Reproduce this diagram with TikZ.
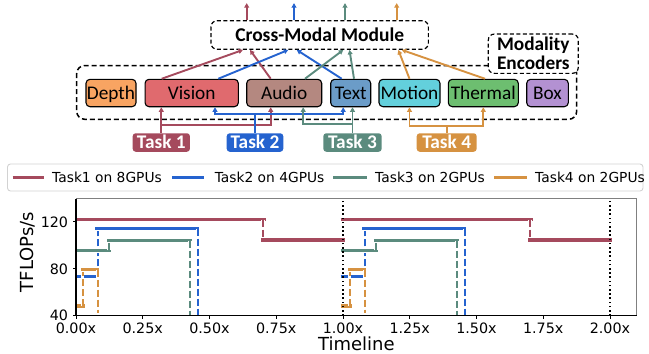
\documentclass[tikz,border=0pt]{standalone}
\usepackage{fontspec}
\setmainfont{Carlito}
\newfontfamily\dvs{DejaVu Sans}
\usetikzlibrary{arrows.meta,calc}
\definecolor{cRed}{HTML}{A54A5D}
\definecolor{cBlue}{HTML}{2563CF}
\definecolor{cGreen}{HTML}{5B8B7E}
\definecolor{cOrange}{HTML}{D69241}
\definecolor{cDepth}{HTML}{F8A462}
\definecolor{cVision}{HTML}{E06A6E}
\definecolor{cAudio}{HTML}{B48880}
\definecolor{cText}{HTML}{6B9CC8}
\definecolor{cMotion}{HTML}{63D0DC}
\definecolor{cThermal}{HTML}{6DBE70}
\definecolor{cBox}{HTML}{B391D2}
\begin{document}
\begin{tikzpicture}[x=1pt,y=-1pt,
  enc/.style={draw=black, line width=1.1pt, rounded corners=4pt, minimum height=27.4pt, inner sep=0pt, text height=12.4pt, text depth=0pt, font=\fontsize{19.3}{21}\selectfont},
  taskbox/.style={rounded corners=3pt, minimum height=18.5pt, inner sep=0pt, text=white, text height=12.4pt, text depth=0pt, font=\fontsize{19.3}{21}\selectfont\bfseries},
  dbox/.style={draw=black, dash pattern=on 4pt off 2.5pt, line width=1.2pt, rounded corners=6pt, fill=white},
  conn/.style={line width=1.9pt, -{Triangle[length=4.5pt,width=4.8pt]}},
  hline/.style={line width=3.4pt, preaction={draw=white, solid, line width=5.2pt}},
  vline/.style={line width=2pt, dash pattern=on 7pt off 3pt, preaction={draw=white, solid, line width=3.6pt}},
  ticklab/.style={font=\dvs\fontsize{14.3}{16}\selectfont, inner sep=0pt},
  legtext/.style={anchor=west, inner sep=0pt, font=\dvs\fontsize{13.8}{16}\selectfont},
  legline/.style={line width=3.5pt}
]
\useasboundingbox (0,0) rectangle (649,354);

% ---------- top diagram ----------
\node[draw=black, dash pattern=on 5pt off 3pt, line width=1.5pt, rounded corners=8pt, minimum width=500pt, minimum height=53.8pt] (outer) at (326.7,92.4) {};
\node[dbox, minimum width=90pt, minimum height=39.3pt, align=center, font=\fontsize{19.3}{19}\selectfont\bfseries, inner sep=0pt] (me) at (533.3,53.7) {Modality\\Encoders};
\node[dbox, minimum width=217.3pt, minimum height=28.6pt, font=\fontsize{19.5}{21}\selectfont\bfseries, text height=12.4pt, text depth=0pt] (cm) at (319.7,35) {Cross-Modal Module};

\node[enc, fill=cDepth, minimum width=50pt] (depth) at (111,93) {Depth};
\node[enc, fill=cVision, minimum width=93.3pt] (vision) at (191.7,93) {Vision};
\node[enc, fill=cAudio, minimum width=75pt] (audio) at (284.2,93) {Audio};
\node[enc, fill=cText, minimum width=40pt] (txt) at (350.7,93) {Text};
\node[enc, fill=cMotion, minimum width=61pt] (motion) at (409.5,93) {Motion};
\node[enc, fill=cThermal, minimum width=70pt] (thermal) at (483.3,93) {Thermal};
\node[enc, fill=cBox, minimum width=41.6pt] (bx) at (547.5,93) {Box};

\node[taskbox, fill=cRed, minimum width=57.3pt] (t1) at (161.3,142.5) {Task 1};
\node[taskbox, fill=cBlue, minimum width=56.6pt] (t2) at (255,142.5) {Task 2};
\node[taskbox, fill=cGreen, minimum width=58.4pt] (t3) at (352.5,142.5) {Task 3};
\node[taskbox, fill=cOrange, minimum width=60pt] (t4) at (446.7,142.5) {Task 4};

% upper connectors
\draw[conn, cRed] ([xshift=-30pt]vision.north) -- ([xshift=-76.7pt]cm.south);
\draw[conn, cRed] ([xshift=-13.5pt]audio.north) -- ([xshift=-69.7pt]cm.south);
\draw[conn, cBlue] ([xshift=26.6pt]vision.north) -- ([xshift=-31.4pt]cm.south);
\draw[conn, cBlue] ([xshift=-9pt]txt.north) -- ([xshift=-23pt]cm.south);
\draw[conn, cGreen] ([xshift=20.8pt]audio.north) -- ([xshift=23.6pt]cm.south);
\draw[conn, cGreen] ([xshift=3.3pt]txt.north) -- ([xshift=29.8pt]cm.south);
\draw[conn, cOrange] (motion.north) -- ([xshift=78.6pt]cm.south);
\draw[conn, cOrange] ([xshift=1.7pt]thermal.north) -- ([xshift=82pt]cm.south);

% outputs
\coordinate (o1) at ([xshift=-73pt,yshift=17pt]cm.north);
\coordinate (o2) at ([xshift=-25.7pt,yshift=17pt]cm.north);
\coordinate (o3) at ([xshift=25.3pt,yshift=17pt]cm.north);
\coordinate (o4) at ([xshift=77pt,yshift=17pt]cm.north);
\draw[conn, cRed] (o1 |- cm.north) -- (o1);
\draw[conn, cBlue] (o2 |- cm.north) -- (o2);
\draw[conn, cGreen] (o3 |- cm.north) -- (o3);
\draw[conn, cOrange] (o4 |- cm.north) -- (o4);

% lower connectors
\draw[conn, cRed] (t1.north) -- (t1.north |- vision.south);
\draw[conn, cRed] ([yshift=8.3pt]t1.north) -| ([xshift=-13.5pt]audio.south);
\draw[line width=1.9pt, cBlue] (t2.north) -- ([yshift=19.3pt]t2.north) coordinate (b2);
\draw[conn, cBlue] (b2) -| ([xshift=23.3pt]vision.south);
\draw[conn, cBlue] (b2) -| ([xshift=-7.5pt]txt.south);
\draw[conn, cGreen] (t3.north) -- (t3.north |- txt.south);
\draw[conn, cGreen] ([yshift=9.3pt]t3.north) -| ([xshift=19pt]audio.south);
\draw[line width=1.9pt, cOrange] (t4.north) -- ([yshift=7.3pt]t4.north) coordinate (b4);
\draw[conn, cOrange] (b4) -| (motion.south);
\draw[conn, cOrange] (b4) -| (thermal.south);

% ---------- legend ----------
\node[draw=gray!35, rounded corners=3pt, line width=0.9pt, minimum width=635.5pt, minimum height=27pt] (legend) at (325.25,177.5) {};
\draw[legline, cRed] (12.5,177.5) -- (43.7,177.5);
\node[legtext] (lt1) at (52,177.5) {Task1 on 8GPUs};
\draw[legline, cBlue] (172,177.5) -- (204,177.5);
\node[legtext] (lt2) at (214.6,177.5) {Task2 on 4GPUs};
\draw[legline, cGreen] (333,177.5) -- (366.7,177.5);
\node[legtext] (lt3) at (375,177.5) {Task3 on 2GPUs};
\draw[legline, cOrange] (494,177.5) -- (527,177.5);
\node[legtext] (lt4) at (535,177.5) {Task4 on 2GPUs};

% ---------- plot ----------
\begin{scope}[shift={(76,362.58)}, x=267pt, y=1.172pt]
  \foreach \p/\s in {0/0, 1/0.991} {
    \draw[hline, cRed] (\s,122) -- (\p+0.71,122);
    \draw[vline, cRed] (\p+0.70,122) -- (\p+0.70,104.5);
    \draw[hline, cRed] (\p+0.694,104.5) -- (\p+1.008,104.5);
    \draw[hline, cBlue] (\s,73.5) -- (\p+0.087,73.5);
    \draw[vline, cBlue] (\p+0.081,73.5) -- (\p+0.081,114.2);
    \draw[hline, cBlue] (\p+0.072,114.2) -- (\p+0.462,114.2);
    \draw[vline, cBlue] (\p+0.456,114.2) -- (\p+0.456,40);
    \draw[hline, cGreen] (\s,95.8) -- (\p+0.13,95.8);
    \draw[vline, cGreen] (\p+0.124,95.8) -- (\p+0.124,104);
    \draw[hline, cGreen] (\p+0.117,104) -- (\p+0.433,104);
    \draw[vline, cGreen] (\p+0.428,104) -- (\p+0.428,40);
    \draw[hline, cOrange] (\s,48.3) -- (\p+0.032,48.3);
    \draw[vline, cOrange] (\p+0.025,48.3) -- (\p+0.025,79.3);
    \draw[hline, cOrange] (\p+0.018,79.3) -- (\p+0.087,79.3);
    \draw[vline, cOrange] (\p+0.081,79.3) -- (\p+0.081,42);
  }
  \foreach \t in {1,2}
    \draw[black, line width=1.6pt, dash pattern=on 1.6pt off 2.6pt] (\t,40) -- (\t,140);
  % spines
  \draw[gray, line width=1.3pt] (0,140) -- (2.1,140) -- (2.1,40);
  \draw[black, line width=1.1pt] (0,140) -- (0,40) -- (2.1,40);
  % ticks
  \foreach \t/\l [count=\i] in {0/0.00x, 0.25/0.25x, 0.5/0.50x, 0.75/0.75x, 1/1.00x, 1.25/1.25x, 1.5/1.50x, 1.75/1.75x, 2/2.00x} {
    \draw[black, line width=1pt] (\t,40) -- (\t,37);
    \node[ticklab, anchor=base] (xl\i) at (\t,25) {\l};
  }
  \foreach \v [count=\i] in {40,80,120} {
    \draw[black, line width=1pt] (0,\v) -- (-0.013,\v);
    \node[ticklab, anchor=east] (yl\i) at (-0.029,\v) {\v};
  }
  \node[font=\dvs\fontsize{18}{20}\selectfont, inner sep=0pt, anchor=base] (xlab) at (1.05,10.5) {Timeline};
\end{scope}
\node[font=\dvs\fontsize{18}{20}\selectfont, inner sep=0pt, rotate=90] (ylab) at (28,252) {TFLOPs/s};
\end{tikzpicture}
\end{document}
